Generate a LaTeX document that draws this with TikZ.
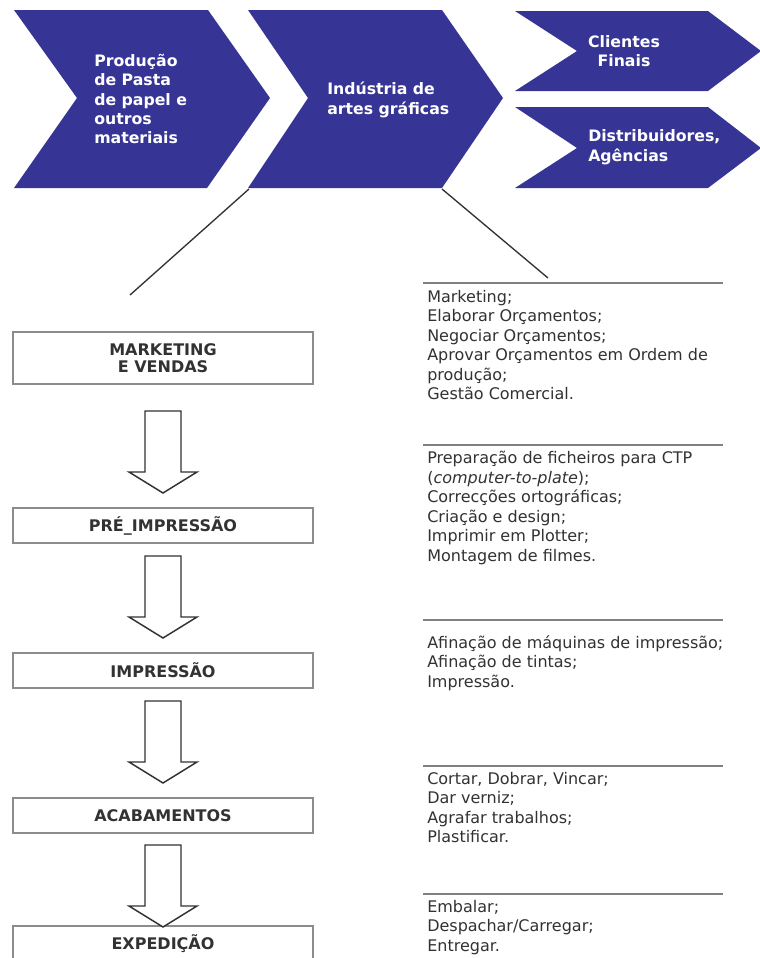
\documentclass[tikz,border=0pt]{standalone}
\usepackage{fontspec}
\setmainfont{DejaVu Sans}
\definecolor{chevblue}{RGB}{54,53,150}
\definecolor{ink}{RGB}{50,50,50}
\definecolor{rulegray}{RGB}{128,128,128}
\definecolor{boxgray}{RGB}{140,140,140}
\begin{document}
\begin{tikzpicture}[x=0.75pt,y=-0.75pt,
  chevron/.style={fill=chevblue},
  chevtext/.style={text=white, font=\bfseries\fontsize{11.8}{14.6}\selectfont,
    align=left, anchor=west, inner sep=0pt},
  connector/.style={draw=ink, line width=1pt},
  stagebox/.style={draw=boxgray, line width=1.4pt, fill=white,
    minimum width=225pt, minimum height=26pt, inner sep=0pt,
    text=ink, font=\bfseries\fontsize{12}{12.8}\selectfont, align=center},
  arrowline/.style={draw=ink, line width=1.1pt, fill=white, line join=miter},
  tasklist/.style={text=ink, font=\fontsize{12}{14.6}\selectfont,
    align=left, anchor=north west, inner sep=0pt},
  taskrule/.style={draw=rulegray, line width=1.6pt},
  blockarrow/.pic={\draw[arrowline] (-18,0) -- (18,0) -- (18,61) -- (34,61)
    -- (0,82) -- (-34,61) -- (-18,61) -- cycle;}
]
\clip (0,0) rectangle (760,958);
\fill[white] (0,0) rectangle (760,958);

% value chain
\fill[chevron] (14,10) -- (208,10) -- (270,98) -- (207,188) -- (14,188) -- (77,98) -- cycle;
\fill[chevron] (248,10) -- (442,10) -- (503,98) -- (442,188) -- (248,188) -- (308,98) -- cycle;
\fill[chevron] (515,11) -- (708,11) -- (761,51) -- (708,91) -- (515,91) -- (577,51) -- cycle;
\fill[chevron] (515,107) -- (708,107) -- (761,148) -- (708,188) -- (515,188) -- (577,148) -- cycle;

\node[chevtext] (pasta) at (94,99) {Produção\\de Pasta\\de papel e\\outros\\materiais};
\node[chevtext] (industria) at (327,100) {Indústria de\\artes gráficas};
\node[chevtext, align=center, anchor=center] (clientes) at (624,51) {Clientes\\Finais};
\node[chevtext] (distrib) at (588,147) {Distribuidores,\\Agências};

% zoom lines from the printing industry
\coordinate (indBL) at (249,189);
\coordinate (indBR) at (442,189);
\coordinate (zoomL) at (130,295);
\coordinate (zoomR) at (548,278);
\draw[connector] (indBL) -- (zoomL);
\draw[connector] (indBR) -- (zoomR);

% production stages
\node[stagebox, minimum height=39pt] (mkt) at (163,358) {MARKETING\\E VENDAS};
\node[stagebox] (pre) at (163,525.5) {PRÉ\_IMPRESSÃO};
\node[stagebox] (imp) at (163,670.5) {IMPRESSÃO};
\node[stagebox] (acab) at (163,815.5) {ACABAMENTOS};
\node[stagebox, minimum height=39pt] (exp) at (163,952) {};
\node[text=ink, font=\bfseries\fontsize{12}{12.8}\selectfont] (explabel) at (163,944) {EXPEDIÇÃO};

\pic at (163,411) {blockarrow};
\pic at (163,556) {blockarrow};
\pic at (163,701) {blockarrow};
\pic at (163,845) {blockarrow};

% tasks of each stage
\foreach \y in {283,445,620,766,894}
  \draw[taskrule] (423,\y) -- (723,\y);

\node[tasklist] (tmkt) at (427,290) {Marketing;\\Elaborar Orçamentos;\\Negociar Orçamentos;\\Aprovar Orçamentos em Ordem de\\produção;\\Gestão Comercial.};
\node[tasklist] (tpre) at (427,451) {Preparação de ficheiros para CTP\\(\textit{computer-to-plate});\\Correcções ortográficas;\\Criação e design;\\Imprimir em Plotter;\\Montagem de filmes.};
\node[tasklist] (timp) at (427,635) {Afinação de máquinas de impressão;\\Afinação de tintas;\\Impressão.};
\node[tasklist] (tacab) at (427,772) {Cortar, Dobrar, Vincar;\\Dar verniz;\\Agrafar trabalhos;\\Plastificar.};
\node[tasklist] (texp) at (427,900) {Embalar;\\Despachar/Carregar;\\Entregar.};
\end{tikzpicture}
\end{document}
